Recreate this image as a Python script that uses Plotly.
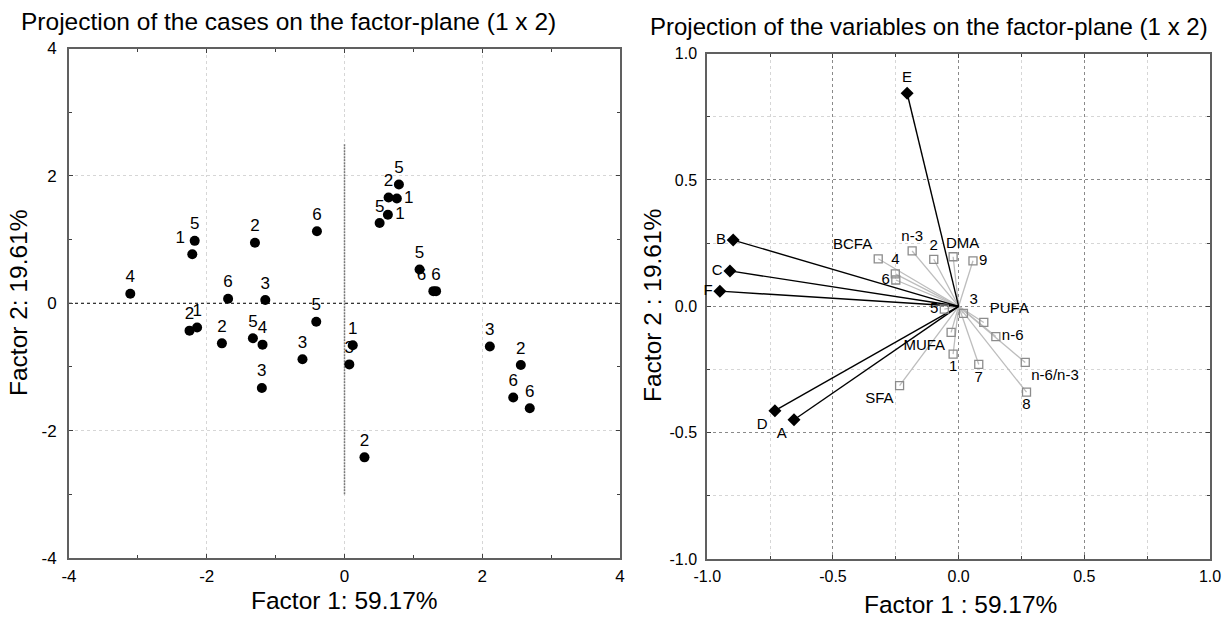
import plotly.graph_objects as go

# ---------------- Data: cases (left panel) ----------------
case_labels = ["4", "5", "1", "2", "6", "6", "3", "2", "1", "2", "5", "4", "3", "5", "3",
               "1", "3", "2", "5", "2", "1", "1", "5", "5", "6", "6", "3", "2", "6", "6"]
case_f1 = [-3.11, -2.175, -2.21, -1.30, -0.40, -1.69, -1.15, -2.25, -2.14, -1.78, -1.33, -1.19,
           -0.61, -0.41, -1.20, 0.12, 0.07, 0.29, 0.79, 0.64, 0.76, 0.63, 0.51, 1.09, 1.29, 1.33,
           2.11, 2.56, 2.45, 2.69]
case_f2 = [0.15, 0.98, 0.77, 0.95, 1.13, 0.07, 0.05, -0.43, -0.38, -0.63, -0.55, -0.65,
           -0.88, -0.29, -1.33, -0.66, -0.96, -2.42, 1.865, 1.66, 1.645, 1.39, 1.26, 0.53, 0.19, 0.19,
           -0.68, -0.97, -1.48, -1.65]

# ---------------- Data: variables (right panel) ----------------
active_names = ["E", "B", "C", "F", "D", "A"]
active_f1 = [-0.205, -0.897, -0.91, -0.95, -0.731, -0.655]
active_f2 = [0.843, 0.262, 0.14, 0.06, -0.413, -0.449]

supp_names = ["BCFA", "n-3", "2", "DMA", "9", "4", "6", "3", "5", "PUFA", "n-6", "n-6/n-3",
              "8", "7", "1", "MUFA", "SFA"]
supp_f1 = [-0.32, -0.185, -0.099, -0.022, 0.057, -0.252, -0.25, 0.019, -0.057, 0.10, 0.148,
           0.265, 0.27, 0.08, -0.022, -0.03, -0.235]
supp_f2 = [0.188, 0.219, 0.186, 0.196, 0.18, 0.128, 0.104, -0.028, -0.011, -0.064, -0.12,
           -0.222, -0.34, -0.23, -0.189, -0.103, -0.314]

left_ticks = [-4, -2, 0, 2, 4]
left_ticktext = ["-4", "-2", "0", "2", "4"]
right_ticks = [-1.0, -0.5, 0.0, 0.5, 1.0]
right_ticktext = ["-1.0", "-0.5", "0.0", "0.5", "1.0"]

# reference lines in the cases plot (x=0 segment, y=0 full)
vref_y = [-3.0, 2.5]
href_x = [-4, 4]

# ---------------- Styling (label placement) ----------------
case_textpos = ["top center", "top center", "top left", "top center", "top center", "top center",
                "top center", "top center", "top center", "top center", "top center", "top center",
                "top center", "top center", "top center", "top center", "top center", "top center",
                "top center", "top center", "middle right", "middle right", "top center",
                "top center", "top left", "top center", "top center", "top center", "top center",
                "top center"]
active_textpos = ["top center", "middle left", "middle left", "middle left", "bottom left", "bottom left"]
# None => drawn as an annotation with a small horizontal shift (see supp_shift)
supp_textpos = ["top left", "top center", "top center", None, "middle right", "top center",
                "middle left", "top right", "middle left", "top right", "middle right",
                "bottom right", "bottom center", "bottom center", "bottom center", "bottom left",
                "bottom left"]
supp_shift = {"DMA": 9}

SANS = "Liberation Sans, Arial"
W, H = 1224, 624
TFS = 24.5    # title font size
LFS = 17      # label/tick font size
VFS = 15      # variable label font size


def px2x(p):
    return p / W


def px2y(p):
    return 1 - p / H


fig = go.Figure()

# Left panel reference lines
fig.add_trace(go.Scatter(x=href_x, y=[0, 0], mode="lines", line=dict(color="black", width=1, dash="dot"),
                         xaxis="x", yaxis="y", showlegend=False, hoverinfo="skip"))
fig.add_trace(go.Scatter(x=[0, 0], y=vref_y, mode="lines", line=dict(color="#777777", width=1.5, dash="2px,1px"),
                         xaxis="x", yaxis="y", showlegend=False, hoverinfo="skip"))

# Left panel: cases
fig.add_trace(go.Scatter(
    x=case_f1, y=case_f2, mode="markers+text", text=case_labels,
    textposition=case_textpos,
    textfont=dict(family=SANS, size=LFS, color="black"),
    marker=dict(symbol="circle", size=10, color="black"),
    xaxis="x", yaxis="y", showlegend=False, cliponaxis=False))

# Right panel: supplementary variables (gray)
gx, gy = [], []
for a, b in zip(supp_f1, supp_f2):
    gx += [0, a, None]
    gy += [0, b, None]
fig.add_trace(go.Scatter(x=gx, y=gy, mode="lines", line=dict(color="#bdbdbd", width=1.3),
                         xaxis="x2", yaxis="y2", showlegend=False, hoverinfo="skip"))
# active variables (black)
bx, by = [], []
for a, b in zip(active_f1, active_f2):
    bx += [0, a, None]
    by += [0, b, None]
fig.add_trace(go.Scatter(x=bx, y=by, mode="lines", line=dict(color="black", width=1.4),
                         xaxis="x2", yaxis="y2", showlegend=False, hoverinfo="skip"))
fig.add_trace(go.Scatter(
    x=supp_f1, y=supp_f2, mode="markers+text",
    text=[n if p else "" for n, p in zip(supp_names, supp_textpos)],
    textposition=[p if p else "top center" for p in supp_textpos],
    textfont=dict(family=SANS, size=VFS, color="black"),
    marker=dict(symbol="square-open", size=8, color="#8c8c8c", line=dict(width=1.3, color="#8c8c8c")),
    xaxis="x2", yaxis="y2", showlegend=False, cliponaxis=False))
for n, a, b, p in zip(supp_names, supp_f1, supp_f2, supp_textpos):
    if p is None:
        fig.add_annotation(x=a, y=b, xref="x2", yref="y2", text=n, showarrow=False,
                           xanchor="center", yanchor="bottom", yshift=4, xshift=supp_shift.get(n, 0),
                           font=dict(family=SANS, size=VFS, color="black"))
fig.add_trace(go.Scatter(
    x=active_f1, y=active_f2, mode="markers+text", text=active_names, textposition=active_textpos,
    textfont=dict(family=SANS, size=VFS, color="black"),
    marker=dict(symbol="diamond", size=10, color="black"),
    xaxis="x2", yaxis="y2", showlegend=False, cliponaxis=False))

axis_common = dict(showline=True, linecolor="#606060", linewidth=2, mirror="ticks",
                   ticks="inside", ticklen=4, tickcolor="#404040", zeroline=False,
                   automargin=False, ticklabeloverflow="allow")
tick_font = dict(family=SANS, size=LFS, color="black")

fig.update_layout(
    width=W, height=H, margin=dict(l=0, r=0, t=0, b=0),
    plot_bgcolor="white", paper_bgcolor="white",
    font=dict(family=SANS, color="black"),
    xaxis=dict(domain=[px2x(69), px2x(620)], range=[-4, 4], tickvals=left_ticks, ticktext=left_ticktext,
               showgrid=True, gridcolor="#d6d6d6", griddash="dot", gridwidth=1,
               minor=dict(dtick=1, ticks="inside", ticklen=3, tickcolor="#404040", showgrid=False),
               anchor="y", ticklabelstandoff=2, tickfont=tick_font, **axis_common),
    yaxis=dict(domain=[px2y(558), px2y(48.5)], range=[-4, 4], tickvals=left_ticks, ticktext=left_ticktext,
               showgrid=True, gridcolor="#d6d6d6", griddash="dot", gridwidth=1,
               minor=dict(dtick=1, ticks="inside", ticklen=3, tickcolor="#404040", showgrid=False),
               anchor="x", ticklabelstandoff=7, tickfont=tick_font, **axis_common),
    xaxis2=dict(domain=[px2x(707.3), px2x(1210)], range=[-1, 1], tickvals=right_ticks,
                ticktext=right_ticktext, layer="below traces",
                showgrid=True, gridcolor="#8a8a8a", griddash="dot", gridwidth=1,
                minor=dict(dtick=0.25, ticks="inside", ticklen=3, tickcolor="#404040",
                           showgrid=True, gridcolor="#d6d6d6", griddash="dot"),
                anchor="y2", ticklabelstandoff=2, tickfont=dict(family=SANS, size=16, color="black"),
                **axis_common),
    yaxis2=dict(domain=[px2y(559), px2y(53.6)], range=[-1, 1], tickvals=right_ticks,
                ticktext=right_ticktext, layer="below traces",
                showgrid=True, gridcolor="#8a8a8a", griddash="dot", gridwidth=1,
                minor=dict(dtick=0.25, ticks="inside", ticklen=3, tickcolor="#404040",
                           showgrid=True, gridcolor="#d6d6d6", griddash="dot"),
                anchor="x2", ticklabelstandoff=5, tickfont=dict(family=SANS, size=16, color="black"),
                **axis_common),
)

annots = [
    dict(text="Projection of the cases on the factor-plane (1 x 2)", x=px2x(288), y=px2y(22),
         font=dict(family=SANS, size=TFS)),
    dict(text="Projection of the variables on the factor-plane (1 x 2)", x=px2x(929), y=px2y(27),
         font=dict(family=SANS, size=TFS - 0.5)),
    dict(text="Factor 1: 59.17%", x=px2x(344), y=px2y(600), font=dict(family=SANS, size=TFS)),
    dict(text="Factor 1 : 59.17%", x=px2x(960), y=px2y(604), font=dict(family=SANS, size=TFS)),
    dict(text="Factor 2: 19.61%", x=px2x(18), y=px2y(303), textangle=-90, font=dict(family=SANS, size=TFS)),
    dict(text="Factor 2 : 19.61%", x=px2x(652), y=px2y(306), textangle=-90, font=dict(family=SANS, size=TFS)),
]
for a in annots:
    fig.add_annotation(xref="paper", yref="paper", showarrow=False, xanchor="center", yanchor="middle",
                       **a)

# remove the default page margin so the 1224x624 figure fills the window exactly
fig.write_html("out.html", config={"displayModeBar": False},
               post_script="document.body.style.margin='0';document.body.style.overflow='hidden';")
